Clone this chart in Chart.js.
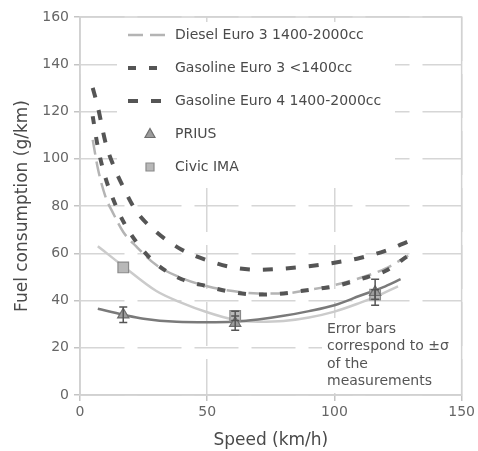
<!DOCTYPE html>
<html>
<head>
<meta charset="utf-8">
<script src="https://cdn.jsdelivr.net/npm/chart.js@4"></script>
<style>
  html, body { margin: 0; padding: 0; background: #fff; }
  #wrap { width: 478px; height: 451px; }
</style>
</head>
<body>
<div id="wrap"><canvas id="fuelChart" width="478" height="451"></canvas></div>
<script>
// Emission model curves (speed km/h -> g/km)
const modelSpeeds = [5, 7, 10, 13, 17, 22, 30, 40, 50, 60, 70, 80, 90, 100, 110, 120, 129];
const dieselEuro3 = [108, 96, 84, 77, 69, 63, 55, 49.5, 46, 44, 43, 43, 44.5, 46.5, 49.5, 53.5, 59];
const gasolineEuro3 = [118, 105, 92, 83, 73.5, 65, 55.5, 49, 46, 43.5, 42.5, 43, 44.5, 46, 49, 52.5, 59];
const gasolineEuro4 = [130, 122, 107, 97.5, 88, 78, 69, 61.5, 57, 54, 53, 53.5, 54.5, 56, 58, 61, 65];

// Fitted curves through the hybrid measurements
const priusFitSpeeds = [7, 17, 25, 38, 50, 60, 70, 80, 90, 100, 110, 120, 126];
const priusFit = [36.5, 34, 32.3, 31, 30.8, 31, 32, 33.5, 35.5, 38, 42, 46, 49];
const civicFitSpeeds = [7, 17, 30, 40, 50, 60, 70, 80, 90, 100, 110, 116, 125];
const civicFit = [63, 54.5, 44, 39, 35, 32, 31, 31.3, 32.8, 35.3, 39, 41.5, 46];

// Measurements with ±σ
const testSpeeds = [17, 61, 116];
const priusValues = [34, 30.4, 43.5];
const priusSigma = [3.3, 3, 5.5];
const civicValues = [54, 33.5, 42.5];
const civicSigma = [0, 2, 2];

const xTicks = [0, 50, 100, 150];
const yTicks = [0, 20, 40, 60, 80, 100, 120, 140, 160];

const legendLabels = ['Diesel Euro 3 1400-2000cc', 'Gasoline Euro 3 <1400cc', 'Gasoline Euro 4 1400-2000cc', 'PRIUS', 'Civic IMA'];
const noteLines = ['Error bars', 'correspond to \u00b1\u03c3', 'of the', 'measurements'];

const FONT = '"DejaVu Sans", Verdana, sans-serif';

function toPoints(xs, ys) {
    return xs.map((x, i) => ({ x: x, y: ys[i] }));
}

// white boxes, frame, error bars, legend and note
const overlayPlugin = {
    id: 'overlay',
    beforeDatasetsDraw(chart) {
        const ctx = chart.ctx;
        const a = chart.chartArea;
        ctx.save();
        ctx.fillStyle = '#fff';
        ctx.fillRect(117, 22, 278, 164);
        ctx.fillRect(322, 318, 139, 75);
        ctx.strokeStyle = '#d2d2d2';
        ctx.lineWidth = 1.5;
        ctx.strokeRect(a.left, a.top, a.right - a.left, a.bottom - a.top);
        ctx.restore();
    },
    afterDatasetsDraw(chart) {
        const ctx = chart.ctx;
        const xs = chart.scales.x;
        const ys = chart.scales.y;
        ctx.save();
        // error bars
        ctx.strokeStyle = '#555';
        ctx.lineWidth = 1.5;
        const bars = [[priusValues, priusSigma], [civicValues, civicSigma]];
        bars.forEach(([vals, sig]) => {
            testSpeeds.forEach((s, i) => {
                if (!sig[i]) return;
                const px = xs.getPixelForValue(s);
                const y1 = ys.getPixelForValue(vals[i] + sig[i]);
                const y2 = ys.getPixelForValue(vals[i] - sig[i]);
                ctx.beginPath();
                ctx.moveTo(px, y1); ctx.lineTo(px, y2);
                ctx.moveTo(px - 4, y1); ctx.lineTo(px + 4, y1);
                ctx.moveTo(px - 4, y2); ctx.lineTo(px + 4, y2);
                ctx.stroke();
            });
        });

        // legend
        ctx.font = '14px ' + FONT;
        ctx.textBaseline = 'middle';
        ctx.textAlign = 'left';
        chart.data.datasets.slice(0, 5).forEach((ds, i) => {
            const y = 35 + i * 33;
            if (ds.showLine) {
                ctx.save();
                ctx.strokeStyle = ds.borderColor;
                ctx.lineWidth = ds.borderWidth;
                ctx.setLineDash(ds.borderDash || []);
                ctx.beginPath();
                ctx.moveTo(128, y);
                ctx.lineTo(170, y);
                ctx.stroke();
                ctx.restore();
            } else {
                ctx.fillStyle = ds.backgroundColor;
                ctx.strokeStyle = ds.borderColor;
                ctx.lineWidth = 1.2;
                ctx.beginPath();
                if (ds.pointStyle === 'rect') {
                    ctx.rect(146, y - 4, 8, 8);
                } else {
                    ctx.moveTo(150, y - 5.5);
                    ctx.lineTo(155, y + 3.5);
                    ctx.lineTo(145, y + 3.5);
                    ctx.closePath();
                }
                ctx.fill();
                ctx.stroke();
            }
            ctx.fillStyle = '#4a4a4a';
            ctx.fillText(legendLabels[i], 175, y);
        });

        // note
        ctx.fillStyle = '#555';
        noteLines.forEach((t, i) => ctx.fillText(t, 327, 329 + i * 17.5));
        ctx.restore();
    }
};

const lineBase = {
    showLine: true,
    pointRadius: 0,
    fill: false,
    cubicInterpolationMode: 'monotone'
};

const gridOpts = {
    color: '#d6d6d6',
    lineWidth: 1.5,
    tickLength: 6,
    tickColor: '#c4c4c4',
    tickBorderDash: []
};
// in v4 border.dash is what dashes the grid lines
const borderOpts = { display: true, color: '#cfcfcf', width: 1.5, dash: [44, 13] };

new Chart(document.getElementById('fuelChart'), {
    type: 'scatter',
    data: {
        datasets: [
            Object.assign({}, lineBase, {
                label: legendLabels[0],
                data: toPoints(modelSpeeds, dieselEuro3),
                borderColor: '#b4b4b4',
                borderWidth: 2.5,
                borderDash: [15, 7],
                order: 4
            }),
            Object.assign({}, lineBase, {
                label: legendLabels[1],
                data: toPoints(modelSpeeds, gasolineEuro3),
                borderColor: '#555',
                borderWidth: 4,
                borderDash: [8, 13],
                order: 3
            }),
            Object.assign({}, lineBase, {
                label: legendLabels[2],
                data: toPoints(modelSpeeds, gasolineEuro4),
                borderColor: '#555',
                borderWidth: 4,
                borderDash: [10, 13],
                order: 3
            }),
            {
                label: legendLabels[3],
                data: toPoints(testSpeeds, priusValues),
                showLine: false,
                pointStyle: 'triangle',
                pointRadius: 6.5,
                backgroundColor: '#9c9c9c',
                borderColor: '#6e6e6e',
                borderWidth: 1.2,
                order: 0
            },
            {
                label: legendLabels[4],
                data: toPoints(testSpeeds, civicValues),
                showLine: false,
                pointStyle: 'rect',
                pointRadius: 7.5,
                backgroundColor: '#b8b8b8',
                borderColor: '#8a8a8a',
                borderWidth: 1.2,
                order: 0
            },
            Object.assign({}, lineBase, {
                label: 'PRIUS fit',
                data: toPoints(priusFitSpeeds, priusFit),
                borderColor: '#7a7a7a',
                borderWidth: 2.5,
                order: 1
            }),
            Object.assign({}, lineBase, {
                label: 'Civic IMA fit',
                data: toPoints(civicFitSpeeds, civicFit),
                borderColor: '#cbcbcb',
                borderWidth: 2.5,
                order: 2
            })
        ]
    },
    options: {
        responsive: false,
        animation: false,
        events: [],
        layout: { padding: { top: 17, right: 14, left: 0, bottom: 0 } },
        plugins: {
            legend: { display: false },
            tooltip: { enabled: false }
        },
        scales: {
            x: {
                type: 'linear',
                min: 0,
                max: 150,
                afterFit: (s) => { s.height = 56; },
                afterBuildTicks: (s) => { s.ticks = xTicks.map(v => ({ value: v })); },
                grid: gridOpts,
                border: borderOpts,
                ticks: { color: '#666', font: { family: FONT, size: 14 }, padding: 3 },
                title: {
                    display: true,
                    text: 'Speed (km/h)',
                    color: '#4a4a4a',
                    font: { family: FONT, size: 17 },
                    padding: { top: 0, bottom: 0 }
                }
            },
            y: {
                type: 'linear',
                min: 0,
                max: 160,
                afterFit: (s) => { s.width = 80; },
                afterBuildTicks: (s) => { s.ticks = yTicks.map(v => ({ value: v })); },
                grid: gridOpts,
                border: borderOpts,
                ticks: { color: '#666', font: { family: FONT, size: 14 }, padding: 5 },
                title: {
                    display: true,
                    text: 'Fuel consumption (g/km)',
                    color: '#4a4a4a',
                    font: { family: FONT, size: 17 },
                    padding: { top: 12, bottom: 0 }
                }
            }
        }
    },
    plugins: [overlayPlugin]
});
</script>
</body>
</html>
